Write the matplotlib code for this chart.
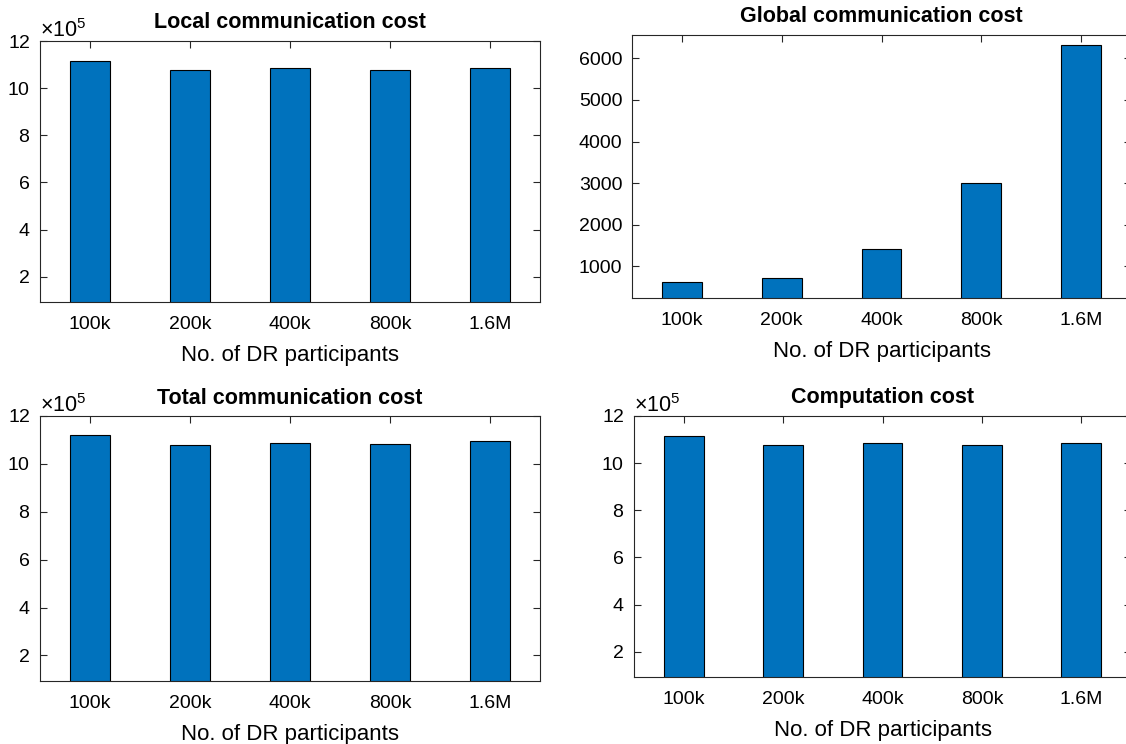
import numpy as np
import matplotlib
matplotlib.use("Agg")
import matplotlib.pyplot as plt

plt.rcParams["font.family"] = ["Liberation Sans", "DejaVu Sans"]
plt.rcParams["mathtext.fontset"] = "custom"
plt.rcParams["mathtext.rm"] = "Liberation Sans"

participants = ["100k", "200k", "400k", "800k", "1.6M"]
local_cost = [11.15e5, 10.76e5, 10.87e5, 10.76e5, 10.87e5]
global_cost = [616, 728, 1424, 3008, 6328]
total_cost = [11.19e5, 10.78e5, 10.89e5, 10.81e5, 10.95e5]
comp_cost = [11.15e5, 10.76e5, 10.84e5, 10.76e5, 10.84e5]

BAR_COLOR = "#0072BD"
AX_COLOR = "#262626"
W, H = 1126, 744


def rect(left, top, right, bottom):
    # pixel box -> figure fraction
    return [left / W, 1 - bottom / H, (right - left) / W, (bottom - top) / H]


def cost_panel(ax, values, title, ylim, yticks, sci=False):
    x = np.arange(1, len(participants) + 1)
    ax.bar(x, values, width=0.4, color=BAR_COLOR, edgecolor="black",
           linewidth=0.8, zorder=2)
    ax.set_xlim(0.5, len(participants) + 0.5)
    ax.set_ylim(*ylim)
    ax.set_xticks(x)
    ax.set_xticklabels(participants)
    ax.set_yticks(yticks)
    if sci:
        ax.ticklabel_format(axis="y", style="sci", scilimits=(5, 5),
                            useMathText=True)
        ax.yaxis.get_offset_text().set_fontsize(15.5)
    ax.tick_params(direction="in", top=True, right=True, length=5,
                   width=0.8, color=AX_COLOR, labelsize=14)
    ax.tick_params(axis="x", pad=10)
    ax.tick_params(axis="y", pad=7)
    for s in ax.spines.values():
        s.set_color(AX_COLOR)
        s.set_linewidth(0.8)
    ax.set_xlabel("No. of DR participants", fontsize=16, labelpad=9)
    ax.set_title(title, fontsize=15.5, fontweight="bold", pad=9)


fig = plt.figure(figsize=(W / 100, H / 100), dpi=100)

ax1 = fig.add_axes(rect(40, 41, 540, 302))
cost_panel(ax1, local_cost, "Local communication cost", (0.93e5, 12e5),
           np.arange(2, 13, 2) * 1e5, sci=True)

ax2 = fig.add_axes(rect(632, 35, 1131, 298))
cost_panel(ax2, global_cost, "Global communication cost", (240, 6560),
           np.arange(1000, 6001, 1000))

ax3 = fig.add_axes(rect(40, 416, 540, 681))
cost_panel(ax3, total_cost, "Total communication cost", (0.93e5, 12e5),
           np.arange(2, 13, 2) * 1e5, sci=True)

ax4 = fig.add_axes(rect(634, 416, 1131, 677))
cost_panel(ax4, comp_cost, "Computation cost", (0.93e5, 12e5),
           np.arange(2, 13, 2) * 1e5, sci=True)

fig.savefig("out.png", dpi=100)
